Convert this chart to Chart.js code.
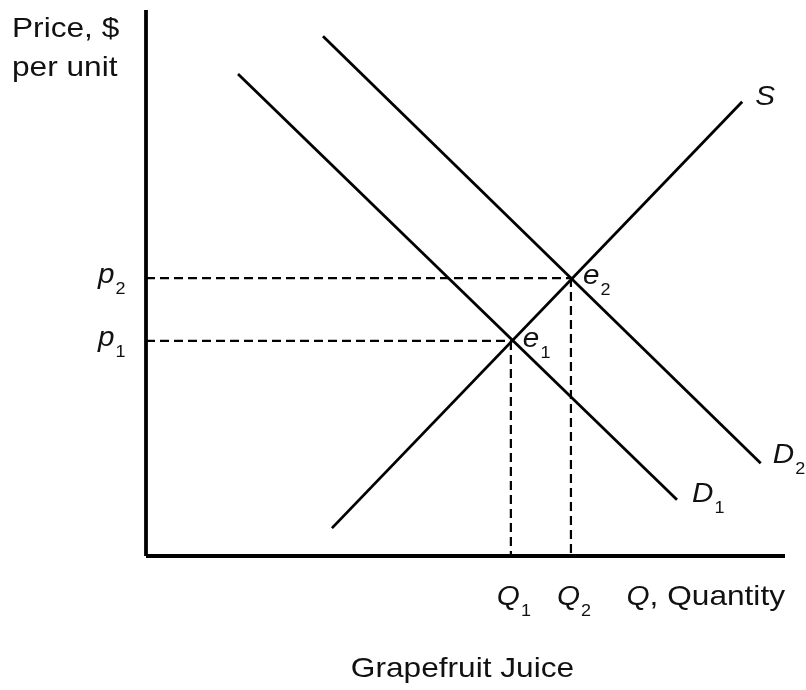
<!DOCTYPE html>
<html>
<head>
<meta charset="utf-8">
<script src="https://cdn.jsdelivr.net/npm/chart.js@4/dist/chart.umd.min.js"></script>
<style>
  html, body { margin: 0; padding: 0; background: #ffffff; }
  #wrap { width: 806px; height: 690px; }
</style>
</head>
<body>
<div id="wrap"><canvas id="c" width="806" height="690"></canvas></div>
<script>
// ---- Data (abstract units, axes run 0..100) ----
const supplyS   = [{x: 29.1, y: 5.1},  {x: 93.3, y: 83.2}];
const demandD1  = [{x: 14.4, y: 88.3}, {x: 83.1, y: 10.3}];
const demandD2  = [{x: 27.7, y: 95.2}, {x: 96.2, y: 17.0}];
const equilibria = [{x: 57.1, y: 39.4}, {x: 66.5, y: 50.9}]; // e1, e2
const eqSubs = ['1', '2'];
const axisMax = {x: 100, y: 100};

const yAxisTitle = ['Price, $', 'per unit'];
const xAxisTitle = 'Quantity';
const chartTitle = 'Grapefruit Juice';

// ---- Build datasets ----
const ink = '#000000';
const solid = (data, w) => ({data, borderColor: ink, borderWidth: w, pointRadius: 0, fill: false, tension: 0, clip: false});
const dashed = (data) => ({data, borderColor: ink, borderWidth: 2.2, borderDash: [9, 5], pointRadius: 0, fill: false, tension: 0, clip: false});

const datasets = [];
equilibria.forEach(e => {
  datasets.push(dashed([{x: 0, y: e.y}, {x: e.x, y: e.y}]));
  datasets.push(dashed([{x: e.x, y: e.y}, {x: e.x, y: 0}]));
});
datasets.push(solid(supplyS, 2.8));
datasets.push(solid(demandD1, 2.8));
datasets.push(solid(demandD2, 2.8));
datasets.push(solid([{x: 0, y: 0}, {x: 0, y: axisMax.y}], 3.8));
datasets.push(solid([{x: 0, y: 0}, {x: axisMax.x, y: 0}], 3.8));

const FONT = '"Liberation Sans", Arial, Helvetica, sans-serif';
const TEXT_SX = 1.13;

function txt(ctx, s, x, y, size, italic, sx) {
  ctx.save();
  ctx.font = (italic ? 'italic ' : '') + size + 'px ' + FONT;
  ctx.translate(x, y);
  ctx.scale(sx || 1, 1);
  ctx.fillText(s, 0, 0);
  const w = ctx.measureText(s).width * (sx || 1);
  ctx.restore();
  return w;
}
function measure(ctx, s, size, italic, sx) {
  ctx.save();
  ctx.font = (italic ? 'italic ' : '') + size + 'px ' + FONT;
  const w = ctx.measureText(s).width * (sx || 1);
  ctx.restore();
  return w;
}
function symbol(ctx, main, sub, x, y) {
  const w = txt(ctx, main, x, y, 28, true, 1.06);
  if (sub) txt(ctx, sub, x + w + 1, y + 11, 17, false, 1.06);
}

const labelPlugin = {
  id: 'labels',
  afterDatasetsDraw(chart) {
    const ctx = chart.ctx, xs = chart.scales.x, ys = chart.scales.y, ca = chart.chartArea;
    ctx.save();
    ctx.fillStyle = '#111111';
    ctx.textBaseline = 'alphabetic';
    ctx.textAlign = 'left';
    // y axis title
    txt(ctx, yAxisTitle[0], 12, 37, 28, false, TEXT_SX);
    txt(ctx, yAxisTitle[1], 12, 76, 28, false, TEXT_SX);
    // equilibrium labels, price and quantity labels
    equilibria.forEach((e, i) => {
      const px = xs.getPixelForValue(e.x), py = ys.getPixelForValue(e.y);
      symbol(ctx, 'e', eqSubs[i], px + 12, py + 6);
      symbol(ctx, 'p', eqSubs[i], ca.left - 48, py + 5);
      symbol(ctx, 'Q', eqSubs[i], px - 14, ca.bottom + 49);
    });
    // curve labels
    const end = d => ({x: xs.getPixelForValue(d[d.length - 1].x), y: ys.getPixelForValue(d[d.length - 1].y)});
    let p = end(supplyS);  symbol(ctx, 'S', '', p.x + 13, p.y + 3);
    p = end(demandD1);     symbol(ctx, 'D', '1', p.x + 15, p.y + 2);
    p = end(demandD2);     symbol(ctx, 'D', '2', p.x + 12, p.y + 0);
    // x axis title, right-aligned with the axis end
    const rest = ', ' + xAxisTitle;
    const wq = measure(ctx, 'Q', 28, true, 1.06), wr = measure(ctx, rest, 28, false, TEXT_SX);
    const qx = ca.right - wq - wr, qy = ca.bottom + 49;
    txt(ctx, 'Q', qx, qy, 28, true, 1.06);
    txt(ctx, rest, qx + wq, qy, 28, false, TEXT_SX);
    // chart caption
    const cw = measure(ctx, chartTitle, 28, false, TEXT_SX);
    txt(ctx, chartTitle, (ca.left + ca.right) / 2 - cw / 2 - 3, 677, 28, false, TEXT_SX);
    ctx.restore();
  }
};

new Chart(document.getElementById('c'), {
  type: 'line',
  data: {datasets},
  options: {
    responsive: false,
    animation: false,
    events: [],
    layout: {padding: {left: 146, right: 21, top: 10, bottom: 134}},
    plugins: {legend: {display: false}, tooltip: {enabled: false}, title: {display: false}},
    scales: {
      x: {type: 'linear', min: 0, max: axisMax.x, display: false},
      y: {type: 'linear', min: 0, max: axisMax.y, display: false}
    }
  },
  plugins: [labelPlugin]
});
</script>
</body>
</html>
